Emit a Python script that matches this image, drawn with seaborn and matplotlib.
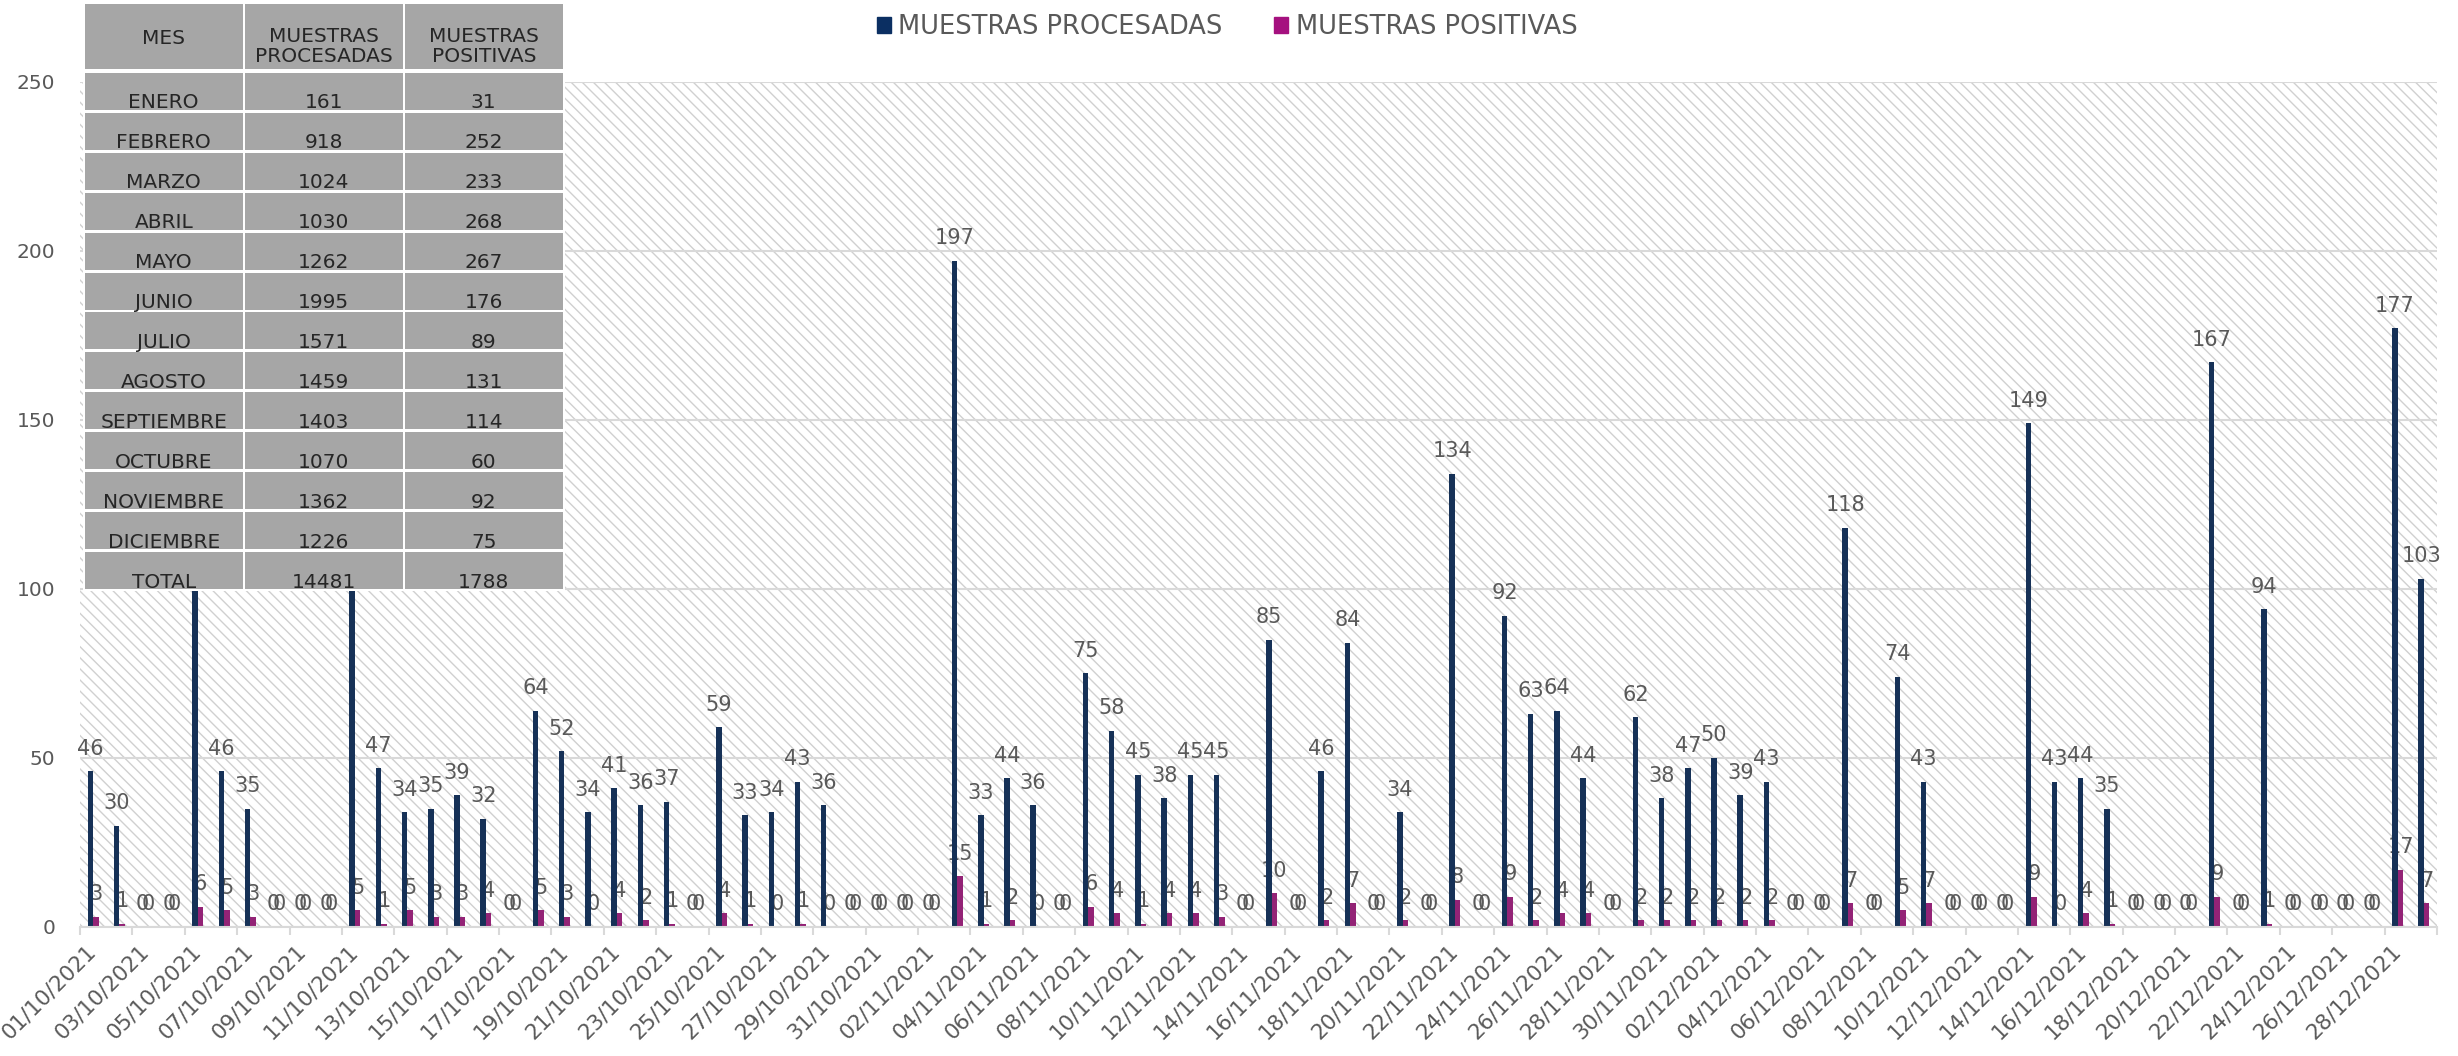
import numpy as np
import pandas as pd
import matplotlib
matplotlib.use("Agg")
import matplotlib.pyplot as plt
import seaborn as sns
from matplotlib.patches import Rectangle

# ---- DATA ----
fechas = pd.date_range("2021-10-01", "2021-12-29", freq="D").strftime("%d/%m/%Y").tolist()

procesadas_oct = [46, 30, 0, 0, 128, 46, 35, 0, 0, 0, 129, 47, 34, 35, 39, 32, 0, 64, 52, 34,
                  41, 36, 37, 0, 59, 33, 34, 43, 36, 0, 0]
procesadas_nov = [0, 0, 197, 33, 44, 36, 0, 75, 58, 45, 38, 45, 45, 0, 85, 0, 46, 84, 0, 34,
                  0, 134, 0, 92, 63, 64, 44, 0, 62, 38]
procesadas_dic = [47, 50, 39, 43, 0, 0, 118, 0, 74, 43, 0, 0, 0, 149, 43, 44, 35, 0, 0, 0,
                  167, 0, 94, 0, 0, 0, 0, 177, 103]

positivas_oct = [3, 1, 0, 0, 6, 5, 3, 0, 0, 0, 5, 1, 5, 3, 3, 4, 0, 5, 3, 0,
                 4, 2, 1, 0, 4, 1, 0, 1, 0, 0, 0]
positivas_nov = [0, 0, 15, 1, 2, 0, 0, 6, 4, 1, 4, 4, 3, 0, 10, 0, 2, 7, 0, 2,
                 0, 8, 0, 9, 2, 4, 4, 0, 2, 2]
positivas_dic = [2, 2, 2, 2, 0, 0, 7, 0, 5, 7, 0, 0, 0, 9, 0, 4, 1, 0, 0, 0,
                 9, 0, 1, 0, 0, 0, 0, 17, 7]

procesadas = procesadas_oct + procesadas_nov + procesadas_dic
positivas = positivas_oct + positivas_nov + positivas_dic

# resumen mensual (tabla)
meses = ["ENERO", "FEBRERO", "MARZO", "ABRIL", "MAYO", "JUNIO", "JULIO", "AGOSTO",
         "SEPTIEMBRE", "OCTUBRE", "NOVIEMBRE", "DICIEMBRE", "TOTAL"]
tabla_procesadas = [161, 918, 1024, 1030, 1262, 1995, 1571, 1459, 1403, 1070, 1362, 1226, 14481]
tabla_positivas = [31, 252, 233, 268, 267, 176, 89, 131, 114, 60, 92, 75, 1788]
encabezados = ["MES", "MUESTRAS\nPROCESADAS", "MUESTRAS\nPOSITIVAS"]

series = ["MUESTRAS PROCESADAS", "MUESTRAS POSITIVAS"]
colores = ["#0B2F62", "#A5117F"]
gris = "#595959"

df = pd.DataFrame({
    "fecha": fechas * 2,
    "serie": [series[0]] * len(fechas) + [series[1]] * len(fechas),
    "valor": procesadas + positivas,
})

# ---- FIGURE ----
plt.rcParams["font.family"] = ["DejaVu Sans"]
plt.rcParams["hatch.linewidth"] = 1.0
plt.rcParams["hatch.color"] = "#D0D0D0"

W, H = 2458, 1056
fig = plt.figure(figsize=(W / 100, H / 100), dpi=100)
ax = fig.add_axes([80 / W, 1 - 927 / H, (2437 - 80) / W, (927 - 81.5) / H])

# hatched plot area
ax.add_patch(Rectangle((0, 0), 1, 1, transform=ax.transAxes, facecolor="white",
                       edgecolor="#D0D0D0", hatch="\\\\\\", linewidth=0, zorder=-1))

sns.barplot(data=df, x="fecha", y="valor", hue="serie", palette=colores,
            width=0.42, errorbar=None, legend=False, ax=ax, zorder=2)

# labels sit behind the bars, like in the original
for cont in ax.containers:
    etiquetas = ax.bar_label(cont, fmt="%g", padding=9, fontsize=15, color=gris)
    for e in etiquetas:
        e.set_zorder(1.8)

ax.set_ylim(0, 250)
ax.set_xlim(-0.5, len(fechas) - 0.5)
ax.set_yticks(range(0, 251, 50))
ax.yaxis.grid(True, color="#D9D9D9", linewidth=1.5)
ax.set_axisbelow(True)
ax.set_xlabel("")
ax.set_ylabel("")

for s in ["top", "right", "left"]:
    ax.spines[s].set_visible(False)
ax.spines["bottom"].set_color("#D9D9D9")
ax.spines["bottom"].set_linewidth(1.5)

pos = np.arange(0, len(fechas), 2)
ax.set_xticks(pos)
ax.set_xticklabels([fechas[i] for i in pos], rotation=45, ha="right",
                   va="center", rotation_mode="anchor")
ax.set_xticks(np.arange(-0.5, len(fechas), 2), minor=True)
ax.tick_params(axis="x", which="major", length=0, pad=15, labelsize=15.5, labelcolor=gris)
ax.tick_params(axis="x", which="minor", length=6, width=1.5, color="#D9D9D9")
ax.tick_params(axis="y", length=0, pad=18, labelsize=14.5, labelcolor=gris)

# legend
handles = [Rectangle((0, 0), 1, 1, color=c) for c in colores]
fig.legend(handles, series, loc="center", bbox_to_anchor=(1227 / W, 1 - 27 / H), ncol=2,
           frameon=False, fontsize=18.5, handlelength=0.55, handleheight=0.55,
           handletextpad=0.3, columnspacing=2.0, labelcolor=gris)

# ---- monthly table (top-left) ----
tab = fig.add_axes([0, 0, 1, 1])
tab.set_xlim(0, W)
tab.set_ylim(H, 0)
tab.axis("off")

col_x = [85, 245, 405]
col_w = 157.5
head_top, head_h = 4, 65
row_top, row_pitch, row_h = 72.7, 39.96, 37
celda = "#A6A6A6"
txt = "#262626"

# white backing so the tall bars stay hidden behind the table
fondo_h = row_top + (len(meses) - 1) * row_pitch + row_h - head_top + 2
tab.add_patch(Rectangle((col_x[0] - 2, head_top - 2), col_x[2] + col_w - col_x[0] + 4, fondo_h + 2,
                        facecolor="white", edgecolor="none"))

for j, t in enumerate(encabezados):
    tab.add_patch(Rectangle((col_x[j], head_top), col_w, head_h, facecolor=celda, edgecolor="none"))
    yc = 38.7 if j == 0 else 46.5
    tab.text(col_x[j] + col_w / 2, yc, t, ha="center", va="center",
             fontsize=14.5, color=txt, linespacing=1.0)

for i in range(len(meses)):
    y0 = row_top + i * row_pitch
    fila = [meses[i], str(tabla_procesadas[i]), str(tabla_positivas[i])]
    for j, t in enumerate(fila):
        tab.add_patch(Rectangle((col_x[j], y0), col_w, row_h, facecolor=celda, edgecolor="none"))
        tab.text(col_x[j] + col_w / 2, y0 + row_h - 1.5, t, ha="center", va="baseline",
                 fontsize=14.5, color=txt)

fig.savefig("out.png", dpi=100)
